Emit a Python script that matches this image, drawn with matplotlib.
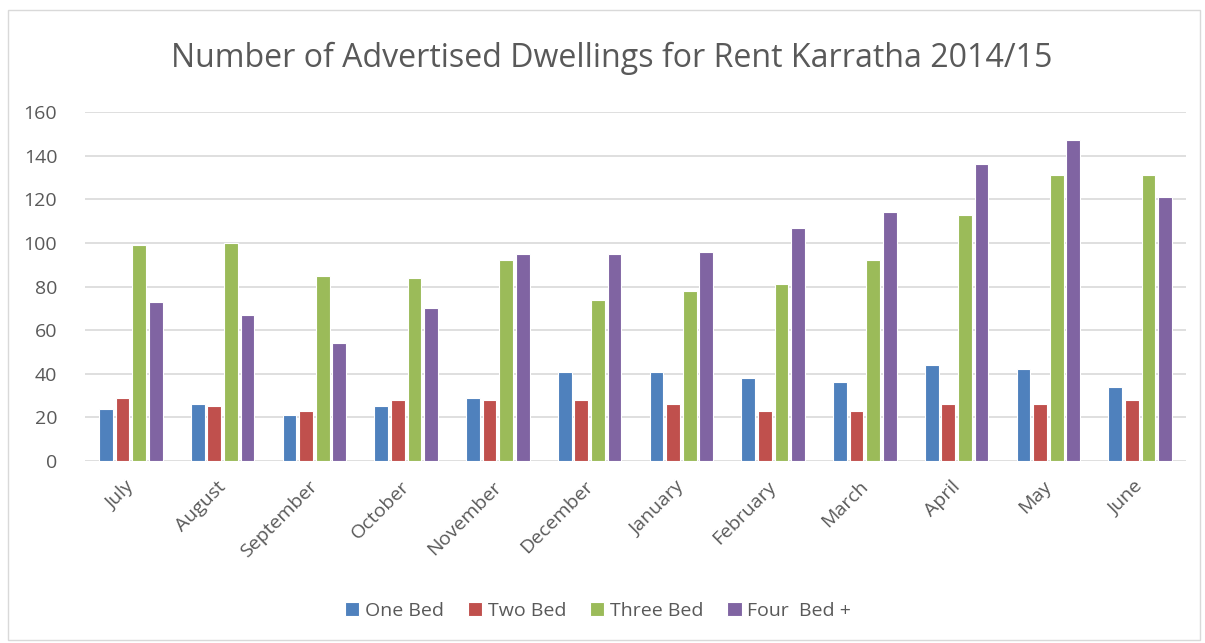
import matplotlib.pyplot as plt
import matplotlib.transforms as mtransforms
import numpy as np
from matplotlib.patches import Rectangle

months = ["July", "August", "September", "October", "November", "December",
          "January", "February", "March", "April", "May", "June"]
one_bed = [24, 26, 21, 25, 29, 41, 41, 38, 36, 44, 42, 34]
two_bed = [29, 25, 23, 28, 28, 28, 26, 23, 23, 26, 26, 28]
three_bed = [99, 100, 85, 84, 92, 74, 78, 81, 92, 113, 131, 131]
four_bed = [73, 67, 54, 70, 95, 95, 96, 107, 114, 136, 147, 121]

series = [("One Bed", one_bed, "#4f81bd"),
          ("Two Bed", two_bed, "#c0504d"),
          ("Three Bed", three_bed, "#9bbb59"),
          ("Four  Bed +", four_bed, "#8064a2")]

plt.rcParams['font.family'] = ['Open Sans', 'DejaVu Sans']
text_col = "#595959"

fig = plt.figure(figsize=(12.05, 6.43), dpi=100)
fig.patches.append(Rectangle((0.007, 0.005), 0.989, 0.98, transform=fig.transFigure,
                             fill=False, edgecolor="#d9d9d9", linewidth=1))
ax = fig.add_axes([85 / 1205, 1 - 461 / 643, 1101 / 1205, 349 / 643])

x = np.arange(len(months))
step = 0.18
width = 0.15
for i, (name, vals, col) in enumerate(series):
    ax.bar(x + (i - 1.5) * step, vals, width, color=col, edgecolor="white",
           linewidth=0.8, label=name, zorder=3)

ax.set_xlim(-0.5, len(months) - 0.5)
ax.set_ylim(0, 160)
ax.set_yticks(range(0, 161, 20))
ax.grid(axis="y", color="#d9d9d9", linewidth=1.2, zorder=0)
for s in ax.spines.values():
    s.set_visible(False)
ax.tick_params(axis="both", length=0, colors=text_col, labelsize=14)
ax.tick_params(axis="y", pad=20)
ax.set_xticks(x)
ax.set_xticklabels(months, rotation=45, ha="right", rotation_mode="anchor")
ax.tick_params(axis="x", pad=12)
shift = mtransforms.ScaledTranslation(-6 / 100, 0, fig.dpi_scale_trans)
for lab in ax.get_xticklabels():
    lab.set_transform(lab.get_transform() + shift)

fig.text(612 / 1205, 1 - 58 / 643, "Number of Advertised Dwellings for Rent Karratha 2014/15",
         ha="center", va="center", fontsize=23.1, color=text_col)

ax.legend(loc="center", bbox_to_anchor=(0.466, -0.43), ncol=4, frameon=False,
          fontsize=14, labelcolor=text_col, handlelength=0.75, handleheight=0.75,
          handletextpad=0.3, columnspacing=1.2)

fig.savefig("out.png", dpi=100)
